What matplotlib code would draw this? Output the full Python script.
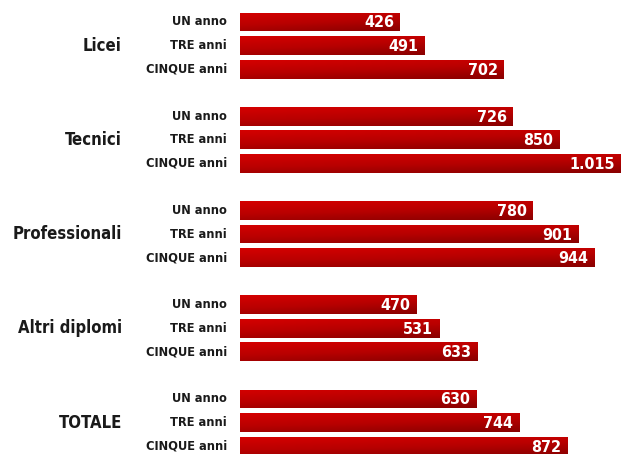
import matplotlib
matplotlib.use("Agg")
import matplotlib.pyplot as plt
from matplotlib.colors import LinearSegmentedColormap
import numpy as np

groups = ["Licei", "Tecnici", "Professionali", "Altri diplomi", "TOTALE"]
periods = ["UN anno", "TRE anni", "CINQUE anni"]
values = [
    [426, 491, 702],
    [726, 850, 1015],
    [780, 901, 944],
    [470, 531, 633],
    [630, 744, 872],
]

W, H = 621, 454
fig = plt.figure(figsize=(W / 100, H / 100), dpi=100)
ax = fig.add_axes([240 / W, 0, 1 - 240 / W, 1])

slot_px = 23.56
top_px = 22
ax.set_xlim(0, 1015)
ax.set_ylim((H - top_px) / slot_px, -top_px / slot_px)
ax.axis("off")

cmap = LinearSegmentedColormap.from_list("red", ["#d40000", "#b80000", "#8a0000"])
bar_h = 0.8
font = dict(family=["DejaVu Sans"], stretch="condensed", weight="bold")

for g, (name, vals) in enumerate(zip(groups, values)):
    for i, (per, v) in enumerate(zip(periods, vals)):
        y = g * 4 + i
        bar = ax.barh(y, v, height=bar_h, color="#b00000", zorder=1)[0]
        xs = np.linspace(0, 1, 64)
        ys = np.linspace(0, 1, 16)
        grad = 0.75 * ys[:, None] + 0.35 * xs[None, :]
        im = ax.imshow(grad, cmap=cmap, vmin=0, vmax=1.1, aspect="auto",
                       extent=(0, v, y - bar_h / 2, y + bar_h / 2),
                       origin="lower", zorder=2)
        im.set_clip_path(bar)
        label = f"{v:,}".replace(",", ".")
        ax.annotate(label, (v, y), xytext=(-6, -1), textcoords="offset pixels",
                    ha="right", va="center", color="white", fontsize=11.5,
                    zorder=3, **font)
        ax.annotate(per, (0, y), xytext=(-13, 0), textcoords="offset pixels",
                    ha="right", va="center", color="#1a1a1a", fontsize=9.2,
                    annotation_clip=False, **font)
    ax.annotate(name, (0, g * 4 + 1), xytext=(-118, 0), textcoords="offset pixels",
                ha="right", va="center", color="#1a1a1a", fontsize=12,
                annotation_clip=False, **font)

fig.savefig("out.png", dpi=100)
